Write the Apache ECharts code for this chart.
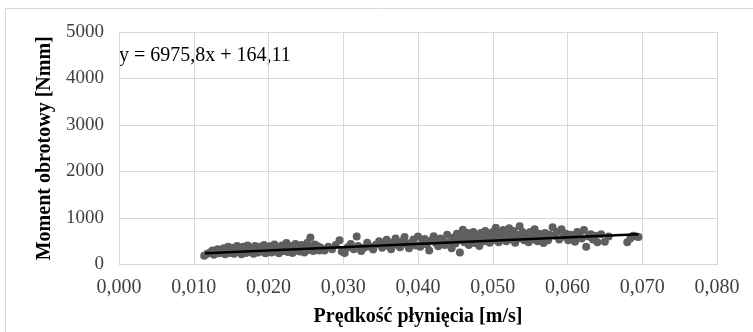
<!DOCTYPE html>
<html>
<head>
<meta charset="utf-8">
<script src="https://cdn.jsdelivr.net/npm/echarts@6/dist/echarts.min.js"></script>
<style>html,body{margin:0;padding:0;background:#fff}#c{width:753px;height:332px}</style>
</head>
<body>
<div id="c"></div>
<script>
var xTicks = ['0,000','0,010','0,020','0,030','0,040','0,050','0,060','0,070','0,080'];
var yTicks = ['0','1000','2000','3000','4000','5000'];
var speed = [
0.0114,0.0118,0.0122,0.0125,0.0127,0.0130,0.0132,0.0134,0.0136,0.0138,0.0140,0.0142,0.0144,0.0146,0.0148,0.0150,
0.0152,0.0154,0.0156,0.0158,0.0160,0.0162,0.0164,0.0166,0.0168,0.0170,0.0172,0.0174,0.0176,0.0178,0.0180,0.0182,0.0184,0.0186,0.0188,0.0190,0.0192,0.0194,0.0196,0.0198,0.0200,
0.0202,0.0204,0.0206,0.0208,0.0210,0.0212,0.0214,0.0216,0.0218,0.0220,0.0222,0.0224,0.0226,0.0228,0.0230,0.0232,0.0234,0.0236,0.0238,0.0240,0.0242,0.0244,0.0246,0.0248,0.0250,0.0252,0.0254,0.0256,0.0258,0.0260,0.0262,0.0264,0.0266,0.0268,0.0270,
0.0275,0.0280,0.0285,0.0290,0.0295,0.0298,0.0302,0.0306,0.0310,0.0314,0.0318,0.0320,0.0324,0.0328,0.0332,0.0336,0.0340,0.0344,0.0348,
0.0352,0.0355,0.0358,0.0361,0.0364,0.0367,0.0370,0.0373,0.0376,0.0379,0.0382,0.0385,0.0388,0.0391,0.0394,0.0397,0.0400,0.0403,0.0406,0.0409,0.0412,0.0415,0.0418,0.0421,0.0424,0.0427,0.0430,0.0433,0.0436,0.0439,0.0442,0.0445,
0.0448,0.0450,0.0452,0.0454,0.0456,0.0458,0.0460,0.0462,0.0464,0.0466,0.0468,0.0470,0.0472,0.0474,0.0476,0.0478,0.0480,0.0482,0.0484,0.0486,0.0488,0.0490,0.0492,0.0494,0.0496,0.0498,0.0500,0.0502,0.0504,0.0506,0.0508,0.0510,0.0512,0.0514,0.0516,0.0518,0.0520,0.0522,0.0524,0.0526,0.0528,0.0530,0.0532,0.0534,0.0536,0.0538,0.0540,0.0542,0.0544,0.0546,0.0548,0.0550,0.0552,0.0554,0.0556,0.0558,0.0560,0.0562,0.0564,0.0566,0.0568,0.0570,0.0572,0.0574,0.0576,
0.0580,0.0583,0.0586,0.0589,0.0592,0.0595,0.0598,0.0601,0.0604,0.0607,0.0610,0.0613,0.0616,0.0619,0.0622,0.0625,0.0628,0.0631,0.0634,0.0637,0.0640,0.0645,0.0650,0.0655,0.0680,0.0684,0.0688,0.0692,0.0695
];
var torque = [
190,230,260,300,210,280,330,240,310,270,350,220,290,380,250,320,
360,230,300,400,270,340,220,380,300,250,410,330,270,360,230,400,310,260,380,340,280,420,240,350,300,
390,260,330,430,280,370,240,320,410,290,360,460,270,340,400,250,330,440,300,380,280,420,350,260,390,470,310,580,360,290,430,340,390,300,360,
300,380,330,420,520,280,250,370,440,330,600,400,290,360,470,380,320,430,500,
360,450,530,400,330,480,560,420,370,500,590,440,350,470,540,410,600,380,490,550,430,300,520,610,460,390,560,500,420,640,480,350,
580,450,660,520,260,610,750,480,560,680,420,600,520,700,460,630,550,400,680,590,500,720,560,640,470,600,700,530,790,620,480,680,560,740,600,500,660,780,540,620,720,470,640,560,820,600,700,520,660,580,480,700,620,540,760,600,500,660,570,620,460,680,580,520,640,
800,620,700,540,760,600,660,520,640,580,490,700,620,560,740,380,600,650,540,620,480,650,490,600,480,560,620,600,590
];
var trendX = [0.0115, 0.0695];
var slope = 6975.8, intercept = 164.11;

var pts = speed.map(function (x, i) { return [x, torque[i]]; });
var trend = trendX.map(function (x) { return [x, slope * x + intercept]; });

var serif = '"Liberation Serif", "DejaVu Serif", serif';
var chart = echarts.init(document.getElementById('c'));
chart.setOption({
  animation: false,
  backgroundColor: '#fff',
  grid: { left: 119, right: 36, top: 32, bottom: 67.5 },
  xAxis: {
    type: 'value', min: 0, max: 0.08, interval: 0.01,
    axisLine: { show: true, lineStyle: { color: '#d9d9d9', width: 1 } },
    axisTick: { show: false },
    splitLine: { show: true, lineStyle: { color: '#d9d9d9', width: 1 } },
    axisLabel: { fontFamily: serif, fontSize: 20, color: '#404040', margin: 13,
      formatter: function (v) { return xTicks[Math.round(v / 0.01)]; } },
    name: 'Prędkość płynięcia [m/s]', nameLocation: 'middle', nameGap: 42,
    nameTextStyle: { fontFamily: serif, fontSize: 20, fontWeight: 'bold', color: '#000' }
  },
  yAxis: {
    type: 'value', min: 0, max: 5000, interval: 1000,
    axisLine: { show: false },
    axisTick: { show: false },
    splitLine: { show: true, lineStyle: { color: '#d9d9d9', width: 1 } },
    axisLabel: { fontFamily: serif, fontSize: 19, color: '#404040', margin: 15,
      formatter: function (v) { return yTicks[Math.round(v / 1000)]; } },
    name: 'Moment obrotowy [Nmm]', nameLocation: 'middle', nameGap: 61,
    nameTextStyle: { fontFamily: serif, fontSize: 20, fontWeight: 'bold', color: '#000' }
  },
  graphic: [
    { type: 'rect', shape: { x: 5.5, y: 8.5, width: 800, height: 400 },
      style: { fill: 'none', stroke: '#d9d9d9', lineWidth: 1 }, z: -1 },
    { type: 'text', left: 119, top: 46,
      style: { text: 'y = 6975,8x + 164,11', font: '20px ' + serif, fill: '#000' } }
  ],
  series: [
    { type: 'scatter', data: pts, symbolSize: 8,
      itemStyle: { color: '#5f5f5f', opacity: 1 }, z: 2 },
    { type: 'line', data: trend, showSymbol: false, symbol: 'none',
      lineStyle: { color: '#000', width: 2.5 }, z: 3 }
  ]
});
</script>
</body>
</html>
